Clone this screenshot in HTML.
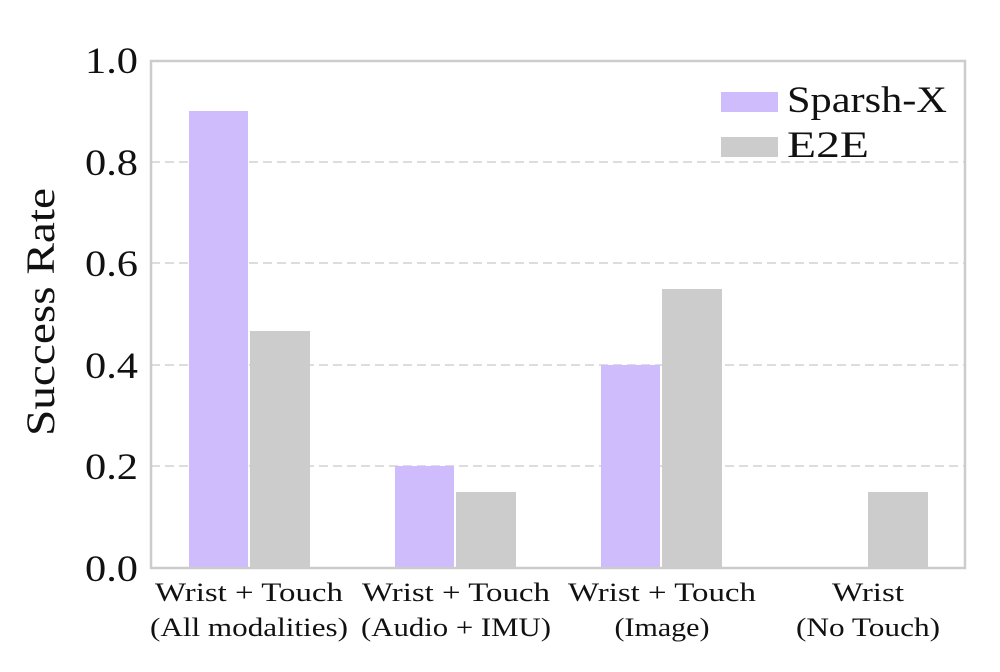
<!DOCTYPE html>
<html><head><style>body{margin:0;background:#fff}</style></head><body>
<svg width="1000" height="667" xmlns="http://www.w3.org/2000/svg" font-family="Liberation Serif, DejaVu Serif, serif">
<rect width="1000" height="667" fill="#fff"/>
<g stroke="#dddddd" stroke-width="2" stroke-dasharray="9,5">
<line x1="151" x2="965" y1="466" y2="466"/><line x1="151" x2="965" y1="365" y2="365"/>
<line x1="151" x2="965" y1="263" y2="263"/><line x1="151" x2="965" y1="162" y2="162"/>
</g>
<g fill="#cfbcfd">
<rect x="189" y="111" width="59" height="457"/>
<rect x="395" y="466" width="59" height="102"/>
<rect x="601" y="365" width="59" height="203"/>
</g>
<g fill="#cccccc">
<rect x="250" y="331" width="60" height="237"/>
<rect x="456" y="492" width="60" height="76"/>
<rect x="662" y="289" width="60" height="279"/>
<rect x="868" y="492" width="60" height="76"/>
</g>
<rect x="151" y="61" width="814" height="507" fill="none" stroke="#cccccc" stroke-width="2.5"/>
<g font-size="37" text-anchor="end" fill="#111" lengthAdjust="spacingAndGlyphs">
<text x="138" y="581" textLength="53" lengthAdjust="spacingAndGlyphs">0.0</text><text x="138" y="479" textLength="53" lengthAdjust="spacingAndGlyphs">0.2</text><text x="138" y="378" textLength="53" lengthAdjust="spacingAndGlyphs">0.4</text>
<text x="138" y="276" textLength="53" lengthAdjust="spacingAndGlyphs">0.6</text><text x="138" y="175" textLength="53" lengthAdjust="spacingAndGlyphs">0.8</text><text x="138" y="73" textLength="53" lengthAdjust="spacingAndGlyphs">1.0</text>
</g>
<text transform="translate(54,312) rotate(-90)" font-size="40" text-anchor="middle" fill="#111" textLength="248" lengthAdjust="spacingAndGlyphs">Success Rate</text>
<g font-size="26" text-anchor="middle" fill="#111">
<text x="249" y="601" textLength="188" lengthAdjust="spacingAndGlyphs">Wrist + Touch</text><text x="249" y="636" textLength="198" lengthAdjust="spacingAndGlyphs">(All modalities)</text>
<text x="456" y="601" textLength="188" lengthAdjust="spacingAndGlyphs">Wrist + Touch</text><text x="456" y="636" textLength="190" lengthAdjust="spacingAndGlyphs">(Audio + IMU)</text>
<text x="662" y="601" textLength="188" lengthAdjust="spacingAndGlyphs">Wrist + Touch</text><text x="662" y="636" textLength="95" lengthAdjust="spacingAndGlyphs">(Image)</text>
<text x="868" y="601" textLength="72" lengthAdjust="spacingAndGlyphs">Wrist</text><text x="868" y="636" textLength="144" lengthAdjust="spacingAndGlyphs">(No Touch)</text>
</g>
<rect x="721" y="92" width="57" height="20" fill="#cfbcfd"/>
<rect x="721" y="137" width="57" height="20" fill="#cccccc"/>
<g font-size="37" fill="#111">
<text x="787" y="112" textLength="160" lengthAdjust="spacingAndGlyphs">Sparsh-X</text><text x="787" y="157" textLength="82" lengthAdjust="spacingAndGlyphs">E2E</text>
</g>
</svg>
</body></html>
